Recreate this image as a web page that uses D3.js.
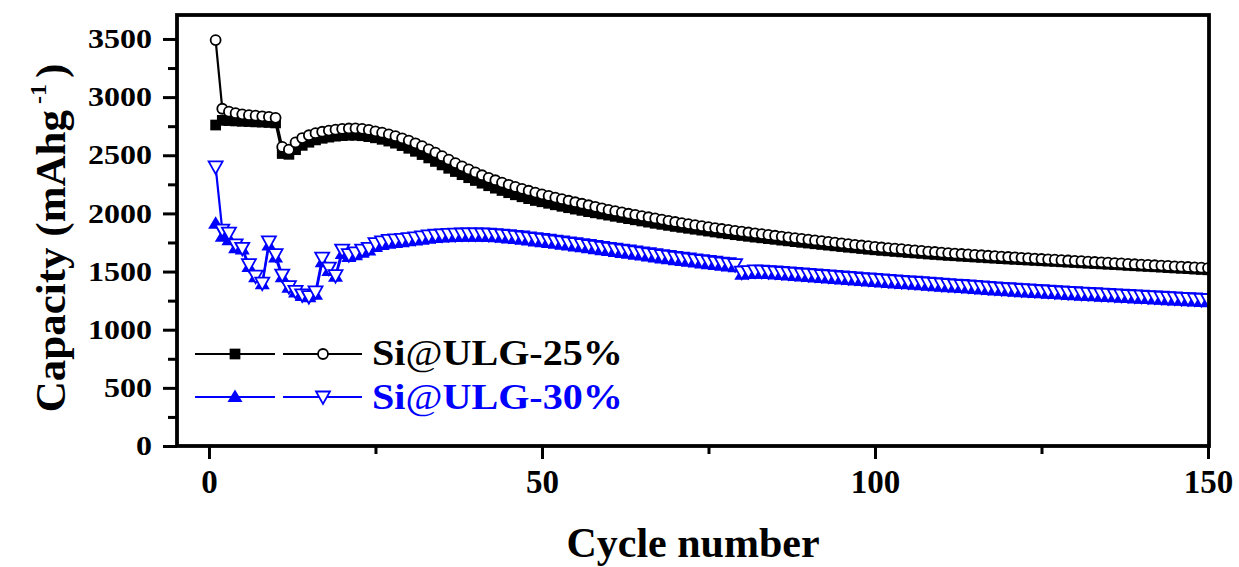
<!DOCTYPE html>
<html><head><meta charset="utf-8">
<script src="https://cdn.jsdelivr.net/npm/d3@7"></script>
<style>
html,body{margin:0;padding:0;background:#fff;}
text{font-family:"Liberation Serif","Times New Roman",serif;font-weight:bold;}
</style></head>
<body><svg id="c" width="1239" height="567"></svg>
<script>
// ---- data ----
const cycles = d3.range(1, 151);
const xTicks = [0, 50, 100, 150];
const xMinor = [25, 75, 125];
const yTicks = [0, 500, 1000, 1500, 2000, 2500, 3000, 3500];
const yMinor = [250, 750, 1250, 1750, 2250, 2750, 3250];
const xTitle = "Cycle number";
const legendLabels = ["Si@ULG-25%", "Si@ULG-30%"];

// Si@ULG-25% discharge (filled squares)
const s25Square = [2760,2800,2798,2795,2792,2790,2787,2785,2782,2778,
2515,2508,2548,2585,2612,2632,2646,2656,2664,2669,
2672,2672,2668,2660,2650,2637,2622,2604,2583,2560,
2534,2506,2477,2447,2417,2388,2360,2333,2307,2283,
2260,2238,2217,2197,2178,2160,2143,2127,2111,2100,
2087,2074,2061,2049,2037,2026,2015,2005,1995,1985,
1975,1965,1955,1945,1935,1925,1915,1906,1897,1888,
1880,1872,1864,1856,1848,1840,1832,1825,1817,1810,
1803,1796,1790,1783,1777,1770,1764,1757,1751,1745,
1739,1733,1727,1721,1715,1709,1704,1698,1692,1687,
1682,1678,1673,1669,1664,1660,1656,1651,1647,1643,
1639,1636,1632,1629,1625,1622,1618,1615,1611,1608,
1605,1602,1599,1596,1593,1590,1587,1584,1581,1578,
1575,1572,1569,1566,1563,1560,1557,1553,1550,1547,
1544,1541,1538,1534,1531,1528,1525,1521,1518,1515];

// Si@ULG-25% charge (open circles)
const s25Circle = [3490,2900,2875,2862,2852,2845,2840,2835,2830,2822,
2572,2548,2610,2648,2672,2690,2702,2712,2720,2726,
2730,2731,2727,2718,2706,2694,2680,2664,2646,2626,
2603,2578,2551,2522,2492,2462,2433,2405,2378,2352,
2328,2306,2285,2265,2246,2228,2211,2195,2179,2164,
2150,2136,2122,2109,2096,2083,2070,2057,2044,2030,
2019,2008,1997,1987,1977,1967,1957,1947,1936,1926,
1917,1908,1899,1890,1882,1874,1866,1858,1850,1843,
1836,1829,1822,1815,1808,1801,1794,1788,1781,1775,
1768,1762,1755,1749,1743,1736,1730,1724,1718,1712,
1707,1702,1697,1692,1687,1682,1677,1672,1668,1663,
1659,1655,1651,1647,1644,1640,1636,1632,1629,1625,
1622,1618,1615,1612,1608,1605,1602,1598,1595,1592,
1589,1586,1582,1579,1576,1573,1570,1566,1563,1560,
1557,1554,1551,1548,1545,1542,1539,1536,1533,1530];

// Si@ULG-30% discharge (filled up-triangles)
const s30Up = [1910,1800,1770,1700,1690,1540,1450,1390,1725,1620,
1450,1360,1320,1290,1280,1300,1580,1505,1455,1650,
1625,1640,1662,1680,1712,1728,1740,1746,1752,1760,
1766,1774,1782,1788,1792,1795,1797,1799,1800,1800,
1799,1797,1794,1790,1785,1779,1773,1766,1759,1752,
1745,1738,1731,1723,1716,1708,1700,1692,1684,1676,
1668,1660,1653,1645,1637,1629,1621,1613,1606,1598,
1591,1584,1577,1570,1563,1556,1549,1543,1536,1472,
1478,1482,1481,1478,1474,1470,1466,1462,1457,1453,
1449,1444,1440,1436,1431,1427,1423,1418,1414,1410,
1406,1402,1398,1394,1390,1386,1382,1378,1374,1370,
1366,1362,1358,1354,1350,1346,1342,1338,1334,1330,
1327,1323,1320,1316,1313,1309,1306,1302,1299,1296,
1293,1290,1287,1284,1281,1278,1275,1272,1269,1266,
1263,1260,1257,1254,1251,1248,1245,1242,1239,1236];

// Si@ULG-30% charge (open down-triangles)
const s30Down = [2400,1857,1830,1730,1700,1560,1460,1400,1755,1645,
1470,1370,1330,1300,1285,1325,1615,1530,1465,1685,
1645,1660,1685,1700,1740,1755,1768,1772,1776,1783,
1790,1798,1806,1812,1816,1819,1821,1823,1824,1824,
1823,1821,1818,1814,1809,1803,1797,1790,1783,1776,
1769,1762,1755,1747,1740,1732,1724,1716,1708,1700,
1692,1684,1677,1669,1661,1653,1645,1637,1630,1622,
1615,1608,1601,1594,1587,1580,1573,1567,1560,1495,
1500,1505,1503,1500,1496,1492,1488,1484,1479,1475,
1471,1466,1462,1458,1453,1449,1445,1440,1436,1432,
1428,1424,1420,1416,1412,1408,1404,1400,1396,1392,
1388,1384,1380,1376,1372,1368,1364,1360,1356,1352,
1349,1345,1342,1338,1335,1331,1328,1324,1321,1318,
1315,1312,1309,1306,1303,1300,1297,1294,1291,1288,
1285,1282,1279,1276,1273,1270,1267,1264,1261,1258];

// ---- layout ----
const BLACK = "#000000", BLUE = "#0000ff";
const L = 177, R = 1209, T = 15, B = 446;
const svg = d3.select("#c");
const x = d3.scaleLinear().domain([-4.8, 150.15]).range([L, R]);
const y = d3.scaleLinear().domain([0, 3706]).range([B, T]);

svg.append("defs").append("clipPath").attr("id", "clip")
  .append("rect").attr("x", L).attr("y", T).attr("width", R - L).attr("height", B - T);

// axes
const gy = svg.append("g").attr("transform", `translate(${L},0)`)
  .call(d3.axisLeft(y).tickValues(yTicks).tickSize(14).tickPadding(11).tickFormat(d3.format("d")));
const gyMinor = svg.append("g").attr("transform", `translate(${L},0)`)
  .call(d3.axisLeft(y).tickValues(yMinor).tickSize(9).tickFormat(""));
const gx = svg.append("g").attr("transform", `translate(0,${B})`)
  .call(d3.axisBottom(x).tickValues(xTicks).tickSize(13).tickPadding(10.5).tickFormat(d3.format("d")));
const gxMinor = svg.append("g").attr("transform", `translate(0,${B})`)
  .call(d3.axisBottom(x).tickValues(xMinor).tickSize(8).tickFormat(""));
[gy, gyMinor, gx, gxMinor].forEach(g => {
  g.select(".domain").remove();
  g.selectAll(".tick line").attr("stroke", BLACK).attr("stroke-width", 3);
});
gy.selectAll(".tick text").attr("font-size", 27).attr("fill", BLACK)
  .attr("font-family", '"Liberation Serif","Times New Roman",serif').attr("font-weight", "bold")
  .each(function(d){ d3.select(this).attr("textLength", String(d).length * 16).attr("lengthAdjust", "spacingAndGlyphs"); });
gx.selectAll(".tick text").attr("font-size", 33).attr("fill", BLACK)
  .attr("font-family", '"Liberation Serif","Times New Roman",serif').attr("font-weight", "bold");

// series
const plot = svg.append("g").attr("clip-path", "url(#clip)");
function series(vals, color) {
  const line = d3.line().x((d, i) => x(cycles[i])).y(d => y(d));
  plot.append("path").datum(vals).attr("d", line).attr("fill", "none")
    .attr("stroke", color).attr("stroke-width", 2.2);
}
const sq = d3.symbol().type(d3.symbolSquare).size(115)();
const upTri = "M0,-7.5L7.5,5L-7.5,5Z";
const downTri = "M-7,-5.5L7,-5.5L0,7Z";

series(s25Square, BLACK);
plot.append("g").selectAll("path").data(s25Square).join("path")
  .attr("d", sq).attr("transform", (d, i) => `translate(${x(cycles[i])},${y(d)})`).attr("fill", BLACK);
series(s25Circle, BLACK);
plot.append("g").selectAll("circle").data(s25Circle).join("circle")
  .attr("cx", (d, i) => x(cycles[i])).attr("cy", d => y(d)).attr("r", 5)
  .attr("fill", "#fff").attr("stroke", BLACK).attr("stroke-width", 1.8);
series(s30Up, BLUE);
plot.append("g").selectAll("path").data(s30Up).join("path")
  .attr("d", upTri).attr("transform", (d, i) => `translate(${x(cycles[i])},${y(d)})`).attr("fill", BLUE);
series(s30Down, BLUE);
plot.append("g").selectAll("path").data(s30Down).join("path")
  .attr("d", downTri).attr("transform", (d, i) => `translate(${x(cycles[i])},${y(d)})`)
  .attr("fill", "#fff").attr("stroke", BLUE).attr("stroke-width", 1.8);

// frame
svg.append("rect").attr("x", L).attr("y", T).attr("width", R - L).attr("height", B - T)
  .attr("fill", "none").attr("stroke", BLACK).attr("stroke-width", 3.8);

// legend
const legend = svg.append("g");
const rows = [
  {label: legendLabels[0], color: BLACK, ly: 354, ty: 365, m1: "sq", m2: "circle"},
  {label: legendLabels[1], color: BLUE, ly: 397, ty: 409, m1: "up", m2: "down"}
];
rows.forEach(r => {
  legend.append("line").attr("x1", 195).attr("x2", 275).attr("y1", r.ly).attr("y2", r.ly)
    .attr("stroke", r.color).attr("stroke-width", 2.2);
  legend.append("line").attr("x1", 283).attr("x2", 362).attr("y1", r.ly).attr("y2", r.ly)
    .attr("stroke", r.color).attr("stroke-width", 2.2);
  if (r.m1 === "sq") legend.append("path").attr("d", sq).attr("transform", `translate(235,${r.ly})`).attr("fill", r.color);
  else legend.append("path").attr("d", upTri).attr("transform", `translate(235,${r.ly})`).attr("fill", r.color);
  if (r.m2 === "circle") legend.append("circle").attr("cx", 323).attr("cy", r.ly).attr("r", 5)
      .attr("fill", "#fff").attr("stroke", r.color).attr("stroke-width", 1.8);
  else legend.append("path").attr("d", downTri).attr("transform", `translate(323,${r.ly})`)
      .attr("fill", "#fff").attr("stroke", r.color).attr("stroke-width", 1.8);
  const parts = r.label.split("@");
  const t = legend.append("text").attr("font-size", 35).attr("fill", r.color);
  t.append("tspan").text(parts[0]);
  t.append("tspan").attr("font-weight", "normal").text("@");
  t.append("tspan").text(parts[1]);
  const w = t.node().getComputedTextLength();
  t.attr("transform", `translate(372,${r.ty}) scale(${251 / w},1)`);
});

// axis titles
svg.append("text").attr("x", (L + R) / 2).attr("y", 557).attr("text-anchor", "middle")
  .attr("font-size", 42).attr("fill", BLACK).text(xTitle);
const yt = svg.append("text").attr("transform", "translate(65,238) rotate(-90)")
  .attr("text-anchor", "middle").attr("font-size", 43).attr("fill", BLACK);
yt.append("tspan").text("Capacity (mAhg");
yt.append("tspan").attr("font-size", 24).attr("dy", -19).text("\u00a0-1\u00a0");
yt.append("tspan").attr("dy", 19).text(")");
</script></body></html>
